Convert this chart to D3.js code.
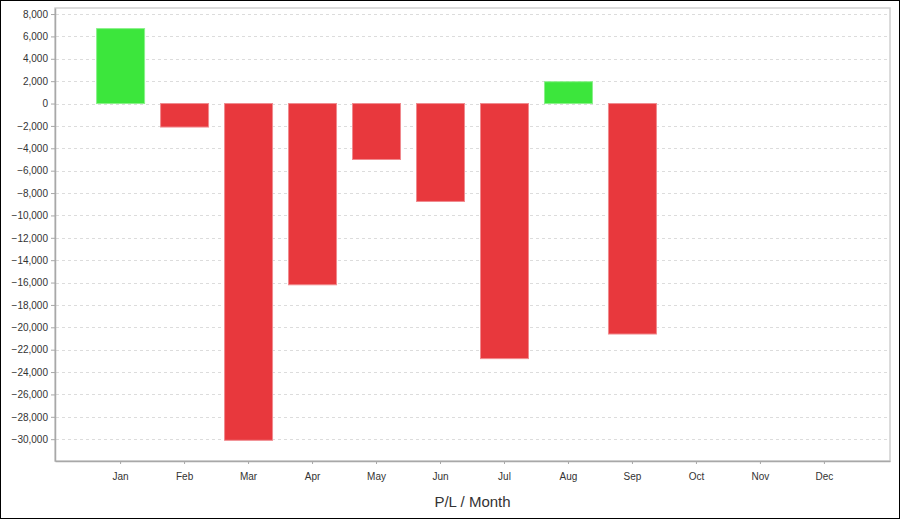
<!DOCTYPE html>
<html><head><meta charset="utf-8">
<script src="https://cdn.jsdelivr.net/npm/d3@7"></script>
<style>
html,body{margin:0;padding:0;background:#fff;}
svg{display:block;font-family:"Liberation Sans",Arial,sans-serif;}
</style></head>
<body>
<svg id="chart" width="900" height="519"></svg>
<script>
const months = ["Jan","Feb","Mar","Apr","May","Jun","Jul","Aug","Sep","Oct","Nov","Dec"];
const profitLoss = [6700,-2100,-30100,-16200,-5000,-8750,-22800,1950,-20600,null,null,null];
const yTicks = [8000,6000,4000,2000,0,-2000,-4000,-6000,-8000,-10000,-12000,-14000,-16000,-18000,-20000,-22000,-24000,-26000,-28000,-30000];
const title = "P/L / Month";

(function(){
const svg = d3.select("#chart");
const W = 900, H = 519;
const pL = 55, pR = 890, pT = 8, pB = 461;

svg.append("rect").attr("x",0.5).attr("y",0.5).attr("width",W-1).attr("height",H-1)
  .attr("fill","#fff").attr("stroke","#000").attr("stroke-width",1);

const x = d3.scaleBand().domain(months).range([pL,pR]).paddingInner(0.25).paddingOuter(0.65);
const y = d3.scaleLinear().domain([-31950, 8540]).range([pB, pT]);

svg.append("rect").attr("x",pL).attr("y",pT).attr("width",pR-pL).attr("height",pB-pT)
  .attr("fill","none").attr("stroke","#cfcfcf").attr("stroke-width",1.5);

svg.append("g").selectAll("line").data(yTicks).join("line")
  .attr("x1",pL+1).attr("x2",pR-1)
  .attr("y1",d=>Math.round(y(d))+0.5).attr("y2",d=>Math.round(y(d))+0.5)
  .attr("stroke","#dcdcdc").attr("stroke-dasharray","3,3");

svg.append("g").selectAll("rect").data(months.map((m,i)=>({m,v:profitLoss[i]})).filter(d=>d.v!=null)).join("rect")
  .attr("x",d=>x(d.m)).attr("width",x.bandwidth())
  .attr("y",d=>y(Math.max(0,d.v))).attr("height",d=>Math.abs(y(d.v)-y(0)))
  .attr("fill",d=>d.v>=0?"#3ce63c":"#e8383d")
  .attr("stroke",d=>d.v>=0?"#8af08a":"#f08a8e").attr("stroke-width",1);

const yAxis = d3.axisLeft(y).tickValues(yTicks).tickSizeInner(4).tickSizeOuter(0).tickPadding(3).tickFormat(d3.format(","));
const gy = svg.append("g").attr("transform",`translate(${pL},0)`).call(yAxis);
gy.select(".domain").attr("stroke","#a8a8a8").attr("stroke-width",1.5);
gy.selectAll(".tick line").attr("stroke","#a8a8a8");
gy.selectAll(".tick text").attr("fill","#333").attr("font-size","10px").style("font-family","Liberation Sans, Arial, sans-serif");

const xAxis = d3.axisBottom(x).tickSizeInner(3).tickSizeOuter(0).tickPadding(9);
const gx = svg.append("g").attr("transform",`translate(0,${pB})`).call(xAxis);
gx.select(".domain").attr("stroke","#a8a8a8").attr("stroke-width",1.5);
gx.selectAll(".tick line").attr("stroke","#a8a8a8");
gx.selectAll(".tick text").attr("fill","#333").attr("font-size","10px").style("font-family","Liberation Sans, Arial, sans-serif");

svg.append("text").attr("x",(pL+pR)/2).attr("y",507).attr("text-anchor","middle")
  .attr("font-size","15px").attr("fill","#333").text(title);
})();
</script>
</body></html>
